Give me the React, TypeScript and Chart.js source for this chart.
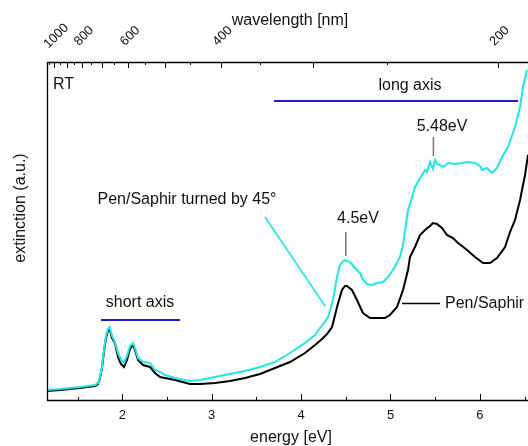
import React, { useEffect, useRef } from "react";
import { Chart, registerables } from "chart.js";

Chart.register(...registerables);

// Pen/Saphir (black)
const energyBlack = [1.158, 1.303, 1.527, 1.695, 1.728, 1.751, 1.773, 1.795, 1.818, 1.840, 1.859, 1.885, 1.918, 1.952, 1.985, 2.019, 2.053, 2.086, 2.120, 2.142, 2.176, 2.232, 2.310, 2.366, 2.422, 2.478, 2.590, 2.757, 2.869, 3.037, 3.205, 3.373, 3.540, 3.708, 3.876, 4.044, 4.156, 4.234, 4.290, 4.346, 4.402, 4.457, 4.491, 4.513, 4.569, 4.625, 4.692, 4.771, 4.860, 4.938, 4.994, 5.073, 5.140, 5.196, 5.218, 5.274, 5.330, 5.386, 5.442, 5.475, 5.520, 5.576, 5.632, 5.699, 5.755, 5.800, 5.856, 5.945, 6.035, 6.113, 6.191, 6.281, 6.337, 6.393, 6.449, 6.471, 6.505, 6.538];
const extBlack = [9, 10, 12, 14, 16, 22, 32, 48, 62, 69, 71, 62, 57, 43, 36, 33, 40, 51, 55, 50, 40, 35, 33, 27, 23, 22, 20, 16, 16, 17, 19, 22, 26, 32, 38, 47, 55, 61, 66, 73, 93, 110, 114, 114, 110, 100, 87, 82, 82, 82, 85, 93, 110, 130, 143, 153, 165, 170, 174, 177, 176, 172, 165, 162, 157, 154, 150, 143, 137, 137, 142, 153, 168, 180, 200, 210, 225, 245];

// Pen/Saphir turned by 45° (cyan)
const energyCyan = [1.158, 1.303, 1.527, 1.695, 1.728, 1.751, 1.773, 1.795, 1.818, 1.840, 1.859, 1.885, 1.918, 1.952, 1.985, 2.019, 2.053, 2.086, 2.120, 2.142, 2.176, 2.232, 2.310, 2.366, 2.422, 2.478, 2.590, 2.757, 2.869, 3.037, 3.205, 3.373, 3.540, 3.708, 3.876, 4.044, 4.156, 4.211, 4.267, 4.301, 4.357, 4.402, 4.435, 4.469, 4.491, 4.513, 4.547, 4.603, 4.659, 4.692, 4.737, 4.793, 4.849, 4.916, 4.972, 5.028, 5.106, 5.140, 5.196, 5.240, 5.274, 5.352, 5.386, 5.408, 5.442, 5.475, 5.498, 5.520, 5.554, 5.587, 5.643, 5.722, 5.800, 5.867, 5.945, 6.001, 6.024, 6.079, 6.135, 6.191, 6.247, 6.314, 6.393, 6.449, 6.482, 6.527];
const extCyan = [10, 11, 13, 15, 17, 23, 33, 50, 64, 71, 73, 64, 58, 47, 40, 37, 44, 54, 57, 52, 42, 38, 37, 30, 28, 25, 22, 19, 20, 23, 26, 29, 33, 38, 47, 57, 65, 72, 78, 83, 100, 123, 135, 139, 140, 139, 138, 132, 127, 120, 116, 115, 117, 118, 123, 130, 143, 155, 190, 202, 213, 225, 230, 228, 238, 231, 240, 236, 235, 233, 237, 236, 237, 238, 237, 234, 230, 232, 227, 232, 243, 253, 273, 293, 313, 330];

// axes
const energyMajor = [2, 3, 4, 5, 6];
const energyMinor = [1.5, 2.5, 3.5, 4.5, 5.5, 6.5];
const wavelengthMajor = [1000, 900, 800, 700, 600, 500, 400, 300, 200];
const wavelengthMinor = [1050, 950, 850, 750, 650, 550, 450, 350, 250];
const wavelengthLabels = [1000, 800, 600, 400, 200];
const peakMarks = [4.5, 5.48];

const FONT = "'Liberation Sans', Arial, Helvetica, sans-serif";

const overlay = {
  id: "overlay",
  afterDatasetsDraw(chart: any) {
    const { ctx, chartArea } = chart;
    const xs = chart.scales.x;
    const L = chartArea.left, R = chartArea.right, T = chartArea.top, B = chartArea.bottom;
    ctx.save();
    // axes lines
    ctx.strokeStyle = "#000";
    ctx.lineWidth = 1.3;
    ctx.beginPath();
    ctx.moveTo(L + 0.5, T);
    ctx.lineTo(L + 0.5, B + 0.5);
    ctx.moveTo(L, B + 0.5);
    ctx.lineTo(R, B + 0.5);
    ctx.moveTo(L, T + 0.5);
    ctx.lineTo(R, T + 0.5);
    ctx.stroke();
    // bottom ticks
    ctx.lineWidth = 1;
    ctx.beginPath();
    energyMajor.forEach((e) => {
      const x = Math.round(xs.getPixelForValue(e)) + 0.5;
      ctx.moveTo(x, B);
      ctx.lineTo(x, B - 6);
    });
    energyMinor.forEach((e) => {
      const x = Math.round(xs.getPixelForValue(e)) + 0.5;
      ctx.moveTo(x, B);
      ctx.lineTo(x, B - 3);
    });
    // top ticks
    wavelengthMajor.forEach((w) => {
      const x = Math.round(xs.getPixelForValue(1239.84 / w)) + 0.5;
      ctx.moveTo(x, T);
      ctx.lineTo(x, T + 6);
    });
    wavelengthMinor.forEach((w) => {
      const x = Math.round(xs.getPixelForValue(1239.84 / w)) + 0.5;
      ctx.moveTo(x, T);
      ctx.lineTo(x, T + 3);
    });
    ctx.stroke();

    ctx.fillStyle = "#111";
    // bottom labels
    ctx.font = `13px ${FONT}`;
    ctx.textAlign = "center";
    ctx.textBaseline = "alphabetic";
    energyMajor.forEach((e) => {
      ctx.fillText(String(e), xs.getPixelForValue(e), 419);
    });
    // top rotated labels
    ctx.textBaseline = "middle";
    wavelengthLabels.forEach((w) => {
      const x = xs.getPixelForValue(1239.84 / w);
      ctx.save();
      ctx.translate(x + 2, 36);
      ctx.rotate(-Math.PI / 4);
      ctx.fillText(String(w), 0, 0);
      ctx.restore();
    });
    // titles
    ctx.font = `16px ${FONT}`;
    ctx.textBaseline = "alphabetic";
    ctx.fillText("energy [eV]", 291, 442);
    ctx.fillText("wavelength [nm]", 290, 25);
    ctx.save();
    ctx.translate(25, 208);
    ctx.rotate(-Math.PI / 2);
    ctx.fillText("extinction (a.u.)", 0, 0);
    ctx.restore();

    // annotations
    ctx.textAlign = "left";
    ctx.fillText("RT", 53, 89);
    ctx.textAlign = "center";
    ctx.fillText("long axis", 410, 90);
    ctx.fillText("short axis", 140, 307);
    ctx.fillText("5.48eV", 442, 131);
    ctx.fillText("4.5eV", 358, 223);
    ctx.fillText("Pen/Saphir turned by 45°", 187, 204);
    ctx.textAlign = "left";
    ctx.fillText("Pen/Saphir", 445, 308);

    // blue axis bars
    ctx.strokeStyle = "#1a1ad0";
    ctx.lineWidth = 2;
    ctx.beginPath();
    ctx.moveTo(274, 101);
    ctx.lineTo(518, 101);
    ctx.moveTo(101, 320);
    ctx.lineTo(180, 320);
    ctx.stroke();

    // peak markers
    ctx.strokeStyle = "#777";
    ctx.lineWidth = 1.5;
    ctx.beginPath();
    const x45 = xs.getPixelForValue(peakMarks[0]);
    ctx.moveTo(x45, 232);
    ctx.lineTo(x45, 256);
    const x548 = xs.getPixelForValue(peakMarks[1]);
    ctx.moveTo(x548, 137);
    ctx.lineTo(x548, 156);
    ctx.stroke();

    // legend leaders
    ctx.strokeStyle = "#22e6e6";
    ctx.lineWidth = 1.6;
    ctx.beginPath();
    ctx.moveTo(265, 217);
    ctx.lineTo(325, 306);
    ctx.stroke();
    ctx.strokeStyle = "#000";
    ctx.beginPath();
    ctx.moveTo(402, 303.5);
    ctx.lineTo(440, 303.5);
    ctx.stroke();
    ctx.restore();
  },
};

export default function App() {
  const ref = useRef<HTMLCanvasElement | null>(null);
  useEffect(() => {
    if (!ref.current) return;
    const chart = new Chart(ref.current, {
      type: "line",
      data: {
        datasets: [
          {
            label: "Pen/Saphir turned by 45°",
            data: energyCyan.map((e, i) => ({ x: e, y: extCyan[i] })),
            borderColor: "#22e6e6",
            borderWidth: 2,
            pointRadius: 0,
            tension: 0,
            fill: false,
          },
          {
            label: "Pen/Saphir",
            data: energyBlack.map((e, i) => ({ x: e, y: extBlack[i] })),
            borderColor: "#000",
            borderWidth: 2,
            pointRadius: 0,
            tension: 0,
            fill: false,
          },
        ],
      },
      options: {
        animation: false,
        responsive: false,
        devicePixelRatio: 1,
        layout: { padding: { left: 47, top: 62, right: 0, bottom: 46 } },
        plugins: { legend: { display: false }, tooltip: { enabled: false } },
        scales: {
          x: { type: "linear", min: 1.158, max: 6.538, display: false },
          y: { type: "linear", min: 0, max: 338, display: false },
        },
      },
      plugins: [overlay],
    });
    return () => chart.destroy();
  }, []);
  return (
    <div style={{ position: "fixed", left: 0, top: 0, width: 528, height: 446, background: "#fff" }}>
      <canvas ref={ref} width={528} height={446} />
    </div>
  );
}
